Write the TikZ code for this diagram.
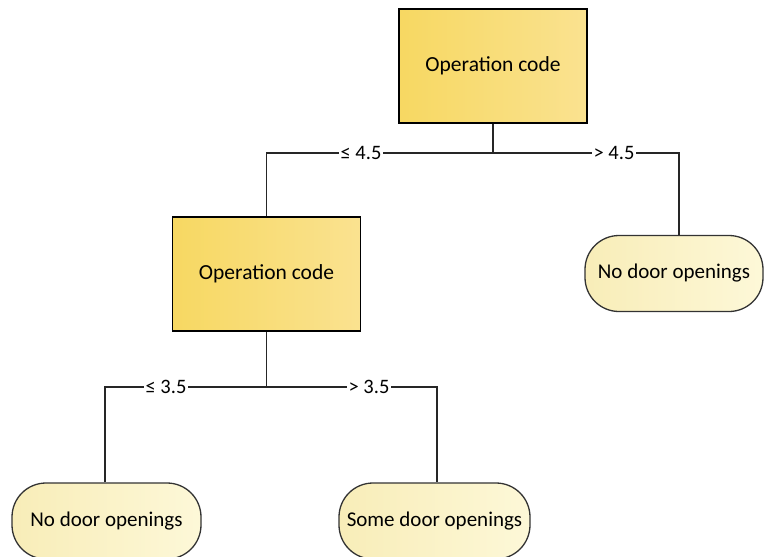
\documentclass[tikz,border=0pt]{standalone}
\usepackage{fontspec}
\setmainfont{Carlito}
\begin{document}
\begin{tikzpicture}[x=1pt,y=-1pt,
  decision/.style={draw=black, line width=1.3pt, rectangle,
    left color=boxL, right color=boxR,
    minimum width=188pt, minimum height=114pt, inner sep=0pt,
    font=\fontsize{21.5}{25}\selectfont},
  leaf/.style={draw=black!80, line width=1.3pt, rectangle, rounded corners=34pt,
    left color=leafL, right color=leafR,
    minimum height=76pt, inner sep=0pt,
    font=\fontsize{21}{25}\selectfont},
  edge/.style={draw=black!85, line width=1.3pt},
  cond/.style={fill=white, inner sep=1.5pt, font=\fontsize{20.5}{24}\selectfont}
]
\definecolor{boxL}{HTML}{F7D862}
\definecolor{boxR}{HTML}{FAE290}
\definecolor{leafL}{HTML}{F8EDB8}
\definecolor{leafR}{HTML}{FDF8D8}
\useasboundingbox (0,0) rectangle (764,557);

% decision nodes
\node[decision] (root) at (493,66) {Operation code};
\node[decision] (mid) at (266.5,274) {Operation code};

% leaves
\node[leaf, minimum width=178pt] (rleaf) at (674,273.5) {No door openings};
\node[leaf, minimum width=189pt] (lleaf) at (106.5,521) {No door openings};
\node[leaf, minimum width=191pt] (sleaf) at (434.5,521) {Some door openings};

% junctions
\coordinate (j1) at (493,153);
\coordinate (a1) at (266.5,153);
\coordinate (b1) at (679,153);
\coordinate (j2) at (266.5,387);
\coordinate (a2) at (105,387);
\coordinate (b2) at (437,387);

% first split
\draw[edge] (root.south) -- (j1);
\draw[edge] (mid.north) -- (a1) -- (b1) -- (b1 |- rleaf.north);
\node[cond] (c1) at (361,153) {≤ 4.5};
\node[cond] (c2) at (614,153) {> 4.5};

% second split
\draw[edge] (mid.south) -- (j2);
\draw[edge] (a2 |- lleaf.north) -- (a2) -- (b2) -- (b2 |- sleaf.north);
\node[cond] (c3) at (166,387) {≤ 3.5};
\node[cond] (c4) at (369,387) {> 3.5};
\end{tikzpicture}
\end{document}
